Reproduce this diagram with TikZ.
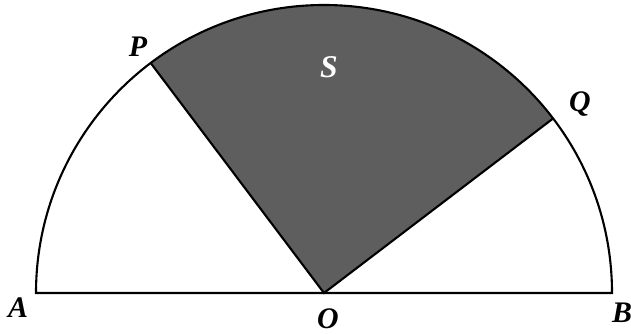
\documentclass[tikz,border=0pt]{standalone}
\usepackage{fontspec}
\setmainfont{Liberation Serif}
\usetikzlibrary{calc}
\begin{document}
\begin{tikzpicture}[x=0.02cm,y=-0.02cm,
  lbl/.style={font=\fontsize{17}{17}\selectfont\bfseries\itshape, inner sep=0pt},
  edge/.style={line width=1.2pt, line join=miter}]
\useasboundingbox (0,0) rectangle (631,334);
\coordinate (O) at (324,293);
\coordinate (A) at (36,293);
\coordinate (B) at (612,293);
\coordinate (P) at ($(O)+(-127:288)$);
\coordinate (Q) at ($(O)+(-37.3:288)$);
\fill[black!63] (O) -- (P) arc[start angle=-127, end angle=-37.3, radius=288] -- cycle;
\draw[edge] (A) -- (B) arc[start angle=0, end angle=-180, radius=288] -- cycle;
\draw[edge] (P) -- (O) -- (Q);
\node[lbl] (lA) at (18,308) {A};
\node[lbl] (lB) at (622,313) {B};
\node[lbl] (lO) at (328,319) {O};
\node[lbl] (lP) at (138,47) {P};
\node[lbl] (lQ) at (580,104) {Q};
\node[lbl, text=white, font=\fontsize{18}{18}\selectfont\bfseries\itshape] (lS) at (329,67) {S};
\end{tikzpicture}
\end{document}
